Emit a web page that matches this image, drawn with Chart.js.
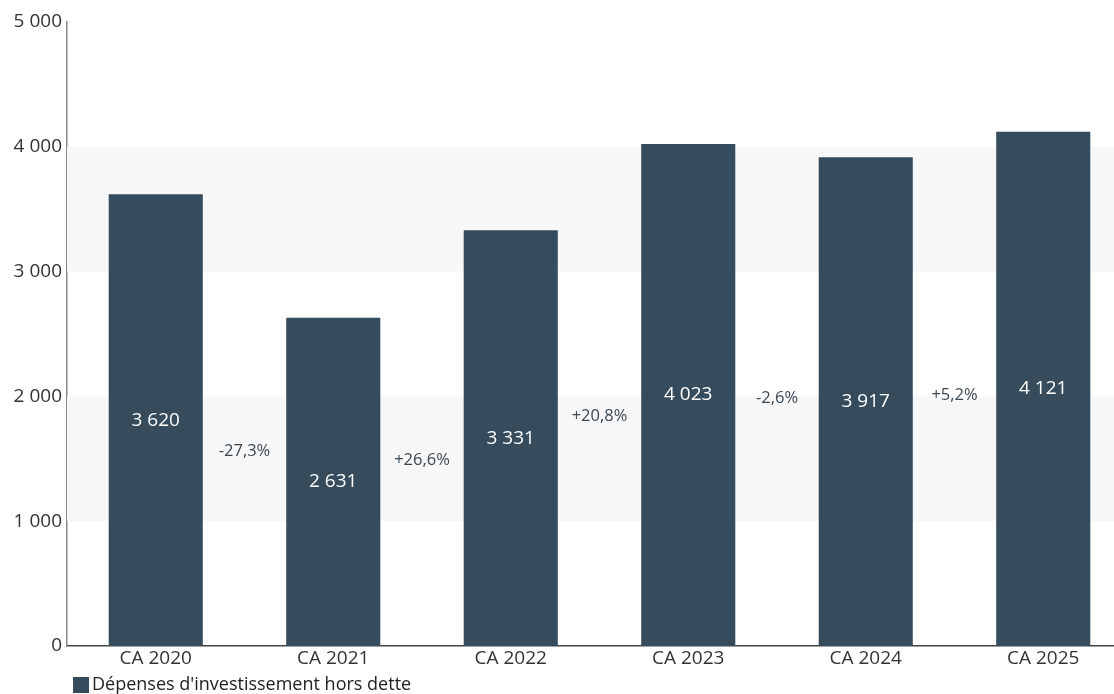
<!DOCTYPE html>
<html>
<head>
<meta charset="utf-8">
<script src="https://cdn.jsdelivr.net/npm/chart.js@4/dist/chart.umd.min.js"></script>
<style>
  html, body { margin: 0; padding: 0; background: #fff; overflow: hidden; }
  #wrap { width: 1135px; height: 694px; }
</style>
</head>
<body>
<div id="wrap"><canvas id="c"></canvas></div>
<script>
// data
const years = ['CA 2020', 'CA 2021', 'CA 2022', 'CA 2023', 'CA 2024', 'CA 2025']
const spending = [3620, 2631, 3331, 4023, 3917, 4121]
const changes = ['-27,3%', '+26,6%', '+20,8%', '-2,6%', '+5,2%']
const bands = [[1000, 2000], [3000, 4000]]
const seriesName = "Dépenses d'investissement hors dette"

const FONT = "'Open Sans', sans-serif"
const BAR = '#364b5b'
const fmt = v => String(v).replace(/\B(?=(\d{3})+(?!\d))/g, ' ')

// alternate grey bands behind the bars
const bandPlugin = {
  id: 'bands',
  beforeDatasetsDraw(chart) {
    const { ctx, chartArea, scales: { y } } = chart
    ctx.save()
    ctx.fillStyle = '#f7f7f7'
    bands.forEach(([lo, hi]) => {
      const top = y.getPixelForValue(hi), bot = y.getPixelForValue(lo)
      ctx.fillRect(chartArea.left, top, chartArea.right - chartArea.left, bot - top)
    })
    ctx.restore()
  }
}

// value inside each bar + change between neighbours + legend line
const labelPlugin = {
  id: 'labels',
  afterDatasetsDraw(chart) {
    const { ctx, chartArea, scales: { x, y } } = chart
    ctx.save()
    ctx.textAlign = 'center'
    ctx.textBaseline = 'middle'
    ctx.font = '19px ' + FONT
    ctx.fillStyle = '#ffffff'
    spending.forEach((v, i) => {
      ctx.fillText(fmt(v), x.getPixelForValue(i), y.getPixelForValue(v / 2))
    })
    ctx.font = '16.5px ' + FONT
    ctx.fillStyle = '#3b4853'
    changes.forEach((t, i) => {
      const px = (x.getPixelForValue(i) + x.getPixelForValue(i + 1)) / 2
      const py = y.getPixelForValue((spending[i] + spending[i + 1]) / 4)
      ctx.fillText(t, px, py)
    })
    // legend, bottom left under the axis
    const ly = chart.height - 9
    ctx.fillStyle = chart.data.datasets[0].backgroundColor
    ctx.fillRect(chartArea.left + 6, ly - 8, 16, 16)
    ctx.textAlign = 'left'
    ctx.fillStyle = '#222'
    ctx.font = '18px ' + FONT
    ctx.fillText(chart.data.datasets[0].label, chartArea.left + 25, ly)
    ctx.restore()
  }
}

new Chart(document.getElementById('c'), {
  type: 'bar',
  data: {
    labels: years,
    datasets: [{
      label: seriesName,
      data: spending,
      backgroundColor: BAR,
      categoryPercentage: 1,
      barPercentage: 0.53
    }]
  },
  options: {
    responsive: true,
    maintainAspectRatio: false,
    animation: false,
    layout: { padding: { top: 22, right: 3, left: 0, bottom: 22 } },
    plugins: {
      legend: { display: false },
      tooltip: { enabled: false }
    },
    scales: {
      x: {
        grid: { display: false, drawTicks: false },
        border: { color: '#444', width: 1.5 },
        afterFit(s) { s.height = 26 },
        ticks: { color: '#333', font: { family: FONT, size: 19 }, padding: 1 }
      },
      y: {
        min: 0, max: 5000,
        grid: { display: false, drawTicks: false },
        border: { color: '#888', width: 1.5 },
        afterFit(s) { s.width = 67 },
        ticks: {
          stepSize: 1000, padding: 5,
          color: '#333', font: { family: FONT, size: 19 },
          callback: v => fmt(v)
        }
      }
    }
  },
  plugins: [bandPlugin, labelPlugin]
})
</script>
</body>
</html>
